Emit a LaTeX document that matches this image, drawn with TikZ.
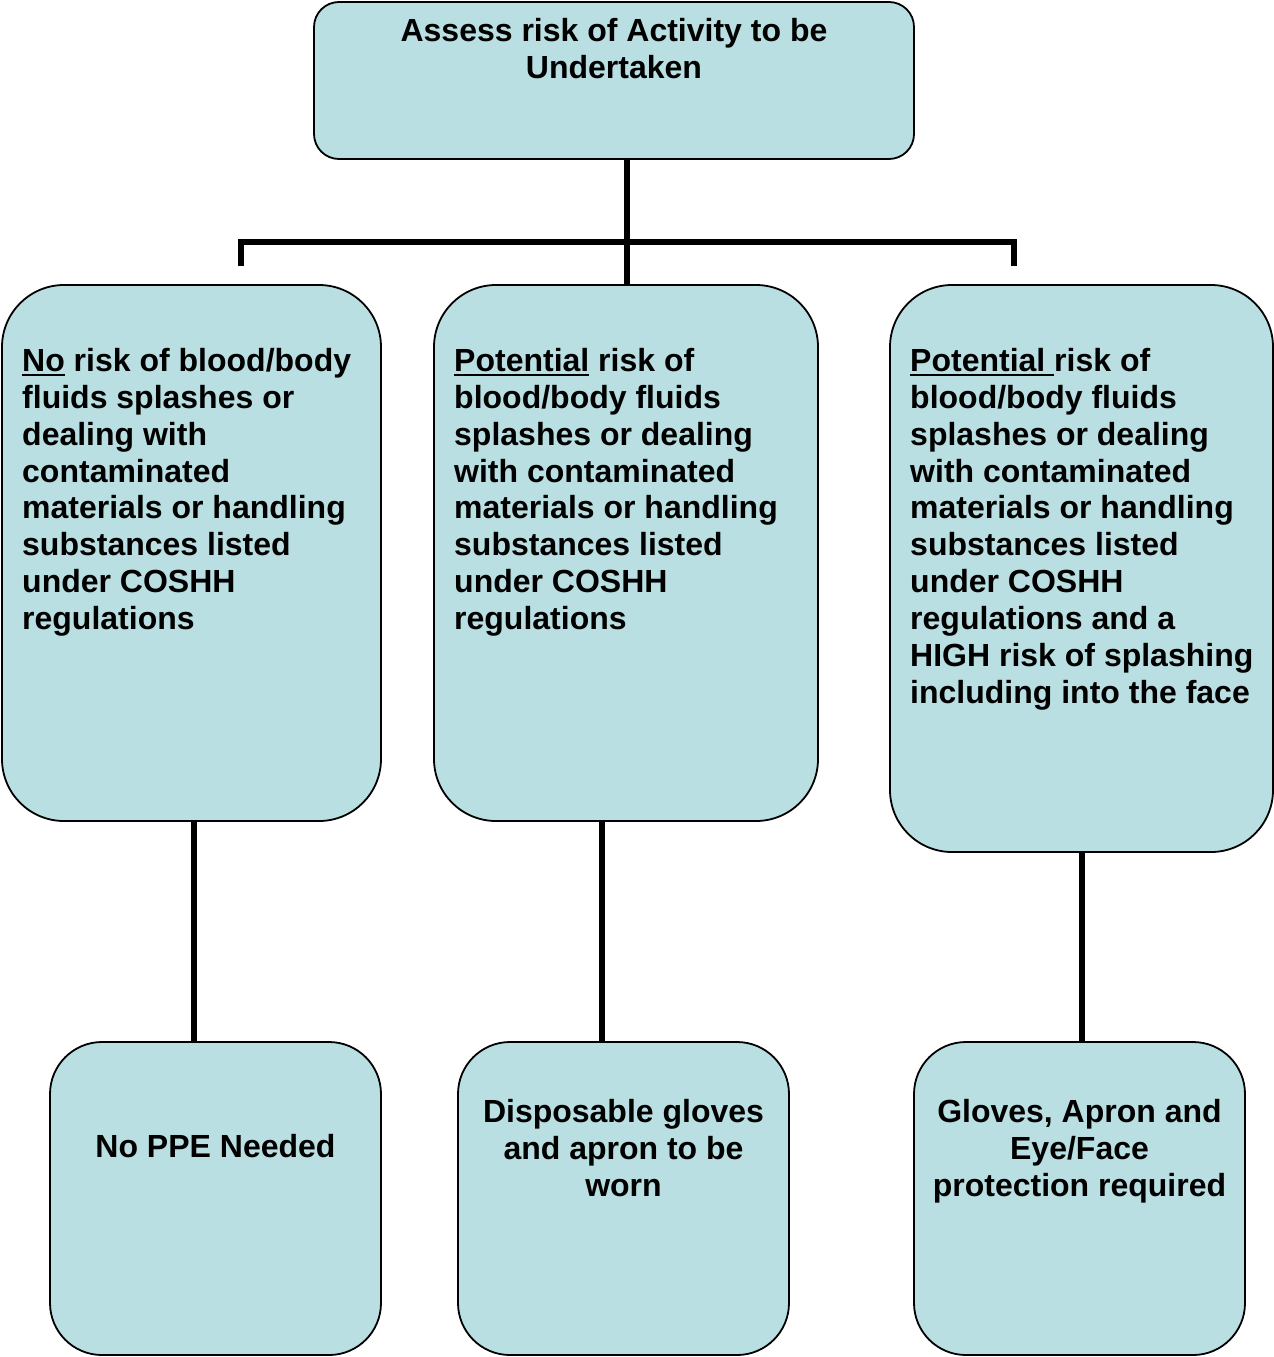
\documentclass[tikz,border=0pt]{standalone}
\usepackage{fontspec}
\setmainfont{Liberation Sans}
\definecolor{boxfill}{RGB}{185,223,226}
\newcommand{\myul}[1]{\setbox0\hbox{#1}\rlap{\vrule width\wd0 height -2.5pt depth 5pt}\box0\relax}
\begin{document}
\begin{tikzpicture}[x=1pt,y=-1pt,
  box/.style={draw=black,fill=boxfill,line width=1.8pt,inner sep=0pt,outer sep=0pt},
  txt/.style={inner sep=0pt,font=\fontsize{32}{36.9}\selectfont\bfseries},
  conn/.style={line width=5.5pt,line cap=butt}]
\useasboundingbox (0,0) rectangle (1274,1357);
% boxes
\node[box,rounded corners=25pt,minimum width=600pt,minimum height=157pt] (top) at (614,80.5) {};
\node[box,rounded corners=62pt,minimum width=379pt,minimum height=536pt] (left) at (191.5,553) {};
\node[box,rounded corners=62pt,minimum width=384pt,minimum height=536pt] (mid) at (626,553) {};
\node[box,rounded corners=62pt,minimum width=383pt,minimum height=567pt] (right) at (1081.5,568.5) {};
\node[box,rounded corners=52pt,minimum width=331pt,minimum height=313pt] (bleft) at (215.5,1198.5) {};
\node[box,rounded corners=52pt,minimum width=331pt,minimum height=313pt] (bmid) at (623.5,1198.5) {};
\node[box,rounded corners=52pt,minimum width=331pt,minimum height=313pt] (bright) at (1079.5,1198.5) {};
% texts
\node[txt,anchor=north,align=center] (ttop) at (614,18) {Assess risk of Activity to be\\Undertaken};
\node[txt,anchor=north west,align=left] (tleft) at (22,348) {\myul{No} risk of blood/body\\fluids splashes or\\dealing with\\contaminated\\materials or handling\\substances listed\\under COSHH\\regulations};
\node[txt,anchor=north west,align=left] (tmid) at (454,348) {\myul{Potential} risk of\\blood/body fluids\\splashes or dealing\\with contaminated\\materials or handling\\substances listed\\under COSHH\\regulations};
\node[txt,anchor=north west,align=left] (tright) at (910,348) {\myul{Potential }risk of\\blood/body fluids\\splashes or dealing\\with contaminated\\materials or handling\\substances listed\\under COSHH\\regulations and a\\HIGH risk of splashing\\including into the face};
\node[txt,anchor=north,align=center] (tbleft) at (215.5,1134) {No PPE Needed};
\node[txt,anchor=north,align=center] (tbmid) at (623.5,1099) {Disposable gloves\\and apron to be\\worn};
\node[txt,anchor=north,align=center] (tbright) at (1079.5,1099) {Gloves, Apron and\\Eye/Face\\protection required};
% connectors
\coordinate (j) at (627,242);
\coordinate (bl) at (241,242);
\coordinate (br) at (1014,242);
\coordinate (blend) at (241,266);
\coordinate (brend) at (1014,266);
\draw[conn] (top.south -| j) -- (j) -- (mid.north -| j);
\draw[conn] (blend) -- (bl) -- (br) -- (brend);
\draw[conn] (left.south -| 194,0) -- (bleft.north -| 194,0);
\draw[conn] (mid.south -| 602,0) -- (bmid.north -| 602,0);
\draw[conn] (right.south -| 1082,0) -- (bright.north -| 1082,0);
\end{tikzpicture}
\end{document}
